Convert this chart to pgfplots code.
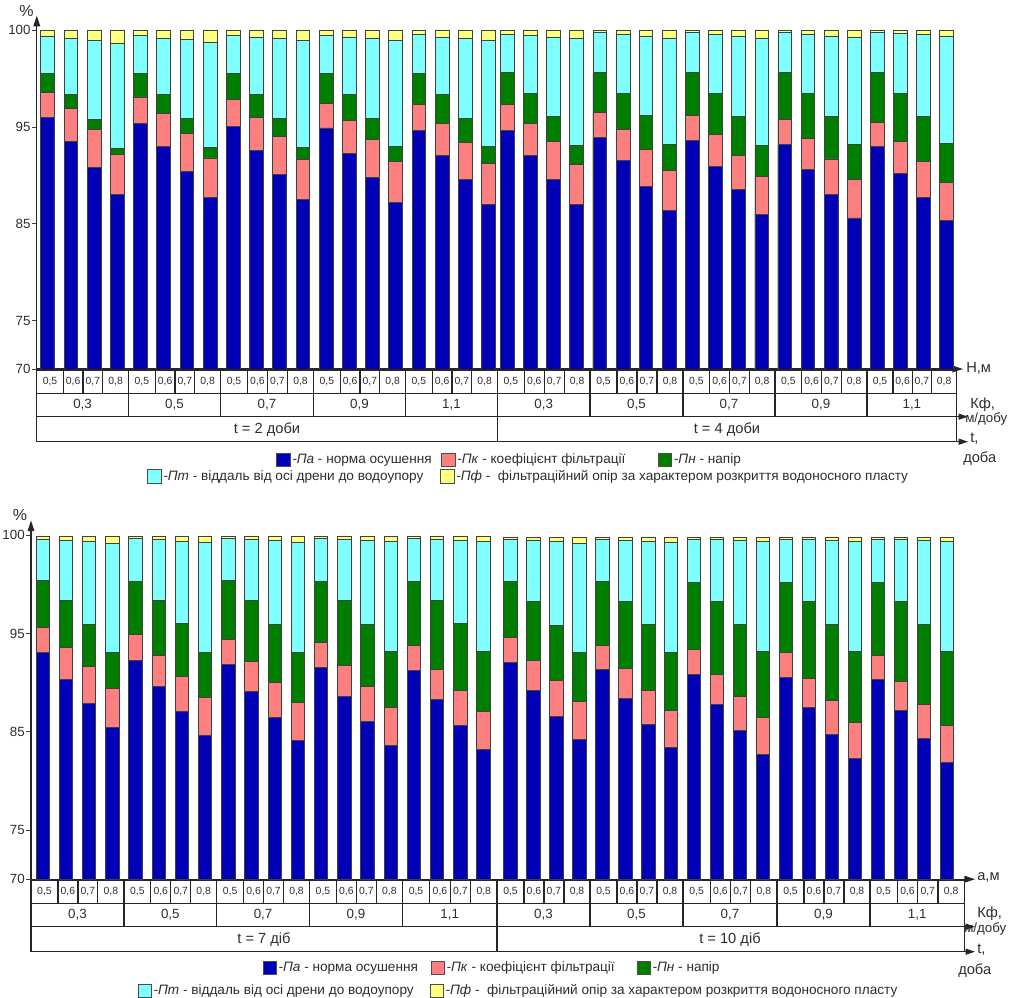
\documentclass[border=0pt]{standalone}
\usepackage{fontspec}
\setmainfont{Liberation Sans}
\usepackage{pgfplots}
\pgfplotsset{compat=1.18}
\usepackage{pgfplotstable}
\usetikzlibrary{arrows.meta}
\definecolor{cA}{RGB}{0,0,182}
\definecolor{cK}{RGB}{252,128,128}
\definecolor{cN}{RGB}{0,126,0}
\definecolor{cT}{RGB}{128,255,255}
\definecolor{cF}{RGB}{255,255,128}
\definecolor{txt}{RGB}{45,45,45}
\newcommand\fs[1]{\fontsize{#1}{#1}\selectfont}

% cumulative tops (display scale: 100 % is drawn at 105)
% F = Pf (total), T = top of Pt, N = top of Pn, K = top of Pk, A = top of Pa
\pgfplotstableread{
x F T N K A
0 105 104.4 100.5 98.6 96.0
1 105 104.1 98.4 96.9 93.5
2 105 103.9 95.8 94.7 90.8
3 105 103.6 92.8 92.2 88.0
4 105 104.5 100.5 98.1 95.4
5 105 104.2 98.4 96.4 93.0
6 105 104.0 95.9 94.3 90.4
7 105 103.7 92.9 91.8 87.7
8 105 104.5 100.5 97.8 95.1
9 105 104.3 98.4 96.0 92.6
10 105 104.1 95.9 94.0 90.1
11 105 103.9 92.9 91.6 87.5
12 105 104.5 100.5 97.4 94.9
13 105 104.3 98.4 95.7 92.3
14 105 104.1 95.9 93.7 89.8
15 105 103.9 93.0 91.4 87.2
16 105 104.6 100.5 97.3 94.6
17 105 104.3 98.4 95.4 92.1
18 105 104.1 95.9 93.4 89.6
19 105 103.9 93.0 91.2 87.0
19.81 105 104.6 100.6 97.3 94.6
20.81 105 104.5 98.5 95.4 92.1
21.80 105 104.3 96.1 93.5 89.6
22.80 105 104.1 93.1 91.1 87.0
23.80 105 104.8 100.6 96.5 93.9
24.80 105 104.6 98.5 94.7 91.5
25.79 105 104.4 96.2 92.7 88.9
26.79 105 104.2 93.2 90.5 86.4
27.79 105 104.8 100.6 96.2 93.6
28.78 105 104.6 98.5 94.2 90.9
29.78 105 104.4 96.1 92.1 88.5
30.78 105 104.2 93.1 89.9 86.0
31.77 105 104.8 100.6 95.8 93.2
32.77 105 104.6 98.5 93.8 90.6
33.77 105 104.4 96.1 91.7 88.0
34.77 105 104.3 93.2 89.6 85.6
35.76 105 104.8 100.6 95.5 93.0
36.76 105 104.7 98.5 93.5 90.2
37.76 105 104.6 96.1 91.4 87.7
38.75 105 104.4 93.3 89.3 85.3
}\topdata

\pgfplotstableread{
x F T N K A
0 104.85 104.56 100.42 95.61 93.03
1 104.85 104.46 98.39 93.54 90.36
2 104.85 104.32 95.92 91.61 87.88
3 104.85 104.15 93.03 89.41 85.44
4 104.85 104.66 100.32 94.90 92.29
5 104.85 104.53 98.39 92.73 89.58
6 104.85 104.39 95.98 90.66 87.03
7 104.85 104.25 93.07 88.49 84.59
8 104.85 104.66 100.36 94.42 91.88
9 104.85 104.53 98.39 92.12 89.07
10 104.85 104.42 95.95 90.02 86.42
11 104.85 104.25 93.10 87.95 84.08
12 104.85 104.66 100.32 94.05 91.54
13 104.85 104.56 98.39 91.71 88.63
14 104.85 104.46 95.95 89.58 86.02
15 104.85 104.32 93.20 87.44 83.64
16 104.85 104.66 100.32 93.78 91.27
17 104.85 104.56 98.39 91.37 88.32
18 104.85 104.49 96.02 89.17 85.68
19 104.85 104.39 93.20 87.03 83.24
20.16 104.75 104.59 100.25 94.56 92.05
21.15 104.75 104.46 98.29 92.29 89.17
22.14 104.75 104.32 95.85 90.19 86.59
23.13 104.75 104.15 93.03 88.12 84.25
24.12 104.75 104.53 100.25 93.75 91.31
25.11 104.75 104.49 98.29 91.44 88.36
26.10 104.75 104.39 95.92 89.24 85.75
27.09 104.75 104.29 93.07 87.14 83.37
28.08 104.75 104.59 100.19 93.37 90.86
29.07 104.75 104.53 98.29 90.86 87.81
30.06 104.75 104.42 95.92 88.63 85.17
31.05 104.75 104.39 93.14 86.46 82.73
32.04 104.75 104.59 100.19 93.03 90.49
33.03 104.75 104.53 98.29 90.42 87.44
34.02 104.75 104.49 95.95 88.15 84.73
35.01 104.75 104.39 93.20 85.92 82.29
36.00 104.75 104.59 100.19 92.80 90.29
36.99 104.75 104.56 98.29 90.15 87.17
37.98 104.75 104.49 95.95 87.78 84.32
38.97 104.75 104.39 93.20 85.61 81.92
}\botdata

\pgfplotsset{
  mybar/.style={ybar, bar shift=0pt, bar width=#1, draw=black!75, line width=0.6pt},
  chart/.style={
    anchor=south west, scale only axis,
    ymin=70, ymax=106.5,
    axis lines=left,
    axis line style={line width=0.9pt, draw=black!85, -{Triangle[length=8pt,width=5pt]}},
    xtick=\empty,
    ytick={70,75,85,95,105}, yticklabels={70,75,85,95,100},
    tick align=outside, major tick length=3.5pt,
    tick style={line width=0.7pt, draw=black!75},
    yticklabel style={font=\fs{10}, text=txt, inner sep=1pt},
  }
}
\tikzset{
  tbl/.style={line width=0.9pt, draw=black!85},
  cell/.style={font=\fs{7.8}, text=txt, inner sep=0pt},
  kf/.style={font=\fs{10}, text=txt, inner sep=0pt},
  tl/.style={font=\fs{11}, text=txt, inner sep=0pt},
  al/.style={font=\fs{11}, text=txt, inner sep=0pt, anchor=west},
  lgt/.style={font=\fs{10.2}, text=txt, inner sep=1.5pt, anchor=west},
}
\newcommand\lgd[4]{%
  \draw[line width=0.6pt, draw=black!70, fill=#3] (#1,#2-6.7) rectangle (#1+13.3,#2+6.7);
  \node[lgt] at (#1+13.3,#2) {#4};}

\begin{document}
\begin{tikzpicture}
\useasboundingbox (0,0) rectangle (757.5pt,748.5pt);

% ---------- top chart ----------
\begin{axis}[chart, at={(27.6pt,471.75pt)}, width=694.6pt, height=265pt,
  xmin=-0.47, xmax=39.45]
\addplot[mybar=10.3pt, fill=cF] table[x=x,y=F]{\topdata};
\addplot[mybar=10.3pt, fill=cT] table[x=x,y=T]{\topdata};
\addplot[mybar=10.3pt, fill=cN] table[x=x,y=N]{\topdata};
\addplot[mybar=10.3pt, fill=cK] table[x=x,y=K]{\topdata};
\addplot[mybar=10.3pt, fill=cA] table[x=x,y=A]{\topdata};
\end{axis}

% ---------- bottom chart ----------
\begin{axis}[chart, at={(23.25pt,89.1pt)}, width=708.1pt, height=269.1pt,
  xmin=-0.504, xmax=40.19]
\addplot[mybar=10pt, fill=cF] table[x=x,y=F]{\botdata};
\addplot[mybar=10pt, fill=cT] table[x=x,y=T]{\botdata};
\addplot[mybar=10pt, fill=cN] table[x=x,y=N]{\botdata};
\addplot[mybar=10pt, fill=cK] table[x=x,y=K]{\botdata};
\addplot[mybar=10pt, fill=cA] table[x=x,y=A]{\botdata};
\end{axis}

\begin{scope}[x=0.75pt, y=-0.75pt, shift={(0pt,748.5pt)}]
% ---- top: labels
\node[font=\fs{12}, text=txt, inner sep=0pt] at (26.5,11) {\%};
\node[al] at (966,368) {Н,м};
\node[al] at (970,405) {Кф,};
\node[al, font=\fs{10}] at (965,419.5) {м/добу};
\node[al] at (970,439) {t,};
\node[al] at (963,459) {доба};
% ---- top table
\foreach \a/\b/\k in {36.7/128.5/{0,3},128.5/220.5/{0,5},220.5/313.5/{0,7},313.5/405.5/{0,9},405.5/497.5/{1,1},497.5/590/{0,3},590/683/{0,5},683/775/{0,7},775/867/{0,9},867/956.7/{1,1}}{
  \pgfmathsetmacro\xa{\a+0.29*(\b-\a)}
  \pgfmathsetmacro\xb{\a+0.505*(\b-\a)}
  \pgfmathsetmacro\xc{\a+0.72*(\b-\a)}
  \draw[tbl] (\a,370.5) rectangle (\xa,393.3) (\xa,370.5) rectangle (\xb,393.3)
             (\xb,370.5) rectangle (\xc,393.3) (\xc,370.5) rectangle (\b,393.3);
  \node[cell] at ({(\a+\xa)/2},382) {0,5};
  \node[cell] at ({(\xa+\xb)/2},382) {0,6};
  \node[cell] at ({(\xb+\xc)/2},382) {0,7};
  \node[cell] at ({(\xc+\b)/2},382) {0,8};
  \draw[tbl] (\a,393.3) rectangle (\b,416.7);
  \node[kf] at ({(\a+\b)/2},405) {\k};
}
\draw[tbl] (36.7,416.7) rectangle (497.5,441.7) (497.5,416.7) rectangle (956.7,441.7);
\node[tl] at (267,429.5) {t = 2 доби};
\node[tl] at (727,429.5) {t = 4 доби};
\draw[tbl,-{Triangle[length=7pt,width=4.5pt]}] (956.7,416.7) -- (968,416.7);
\draw[tbl,-{Triangle[length=7pt,width=4.5pt]}] (956.7,441.7) -- (968,441.7);
% ---- top legend
\lgd{276.7}{460}{cA}{\textit{-Па} - норма осушення}
\lgd{441.7}{460}{cK}{\textit{-Пк} - коефіцієнт фільтрації}
\lgd{658.3}{460}{cN}{\textit{-Пн} - напір}
\lgd{147.7}{476.5}{cT}{\textit{-Пт} - віддаль від осі дрени до водоупору}
\lgd{440.7}{476.5}{cF}{\textit{-Пф} -\ \ фільтраційний опір за характером розкриття водоносного пласту}

% ---- bottom: labels
\node[font=\fs{12}, text=txt, inner sep=0pt] at (20,515) {\%};
\node[al] at (977,877) {а,м};
\node[al] at (977,914) {Кф,};
\node[al, font=\fs{10}] at (964,929) {м/добу};
\node[al] at (977,950) {t,};
\node[al] at (958,971) {доба};
% ---- bottom table
\foreach \a/\b/\k in {31/123.9/{0,3},123.9/216.7/{0,5},216.7/309.5/{0,7},309.5/402.3/{0,9},402.3/497/{1,1},497/590/{0,3},590/683/{0,5},683/777/{0,7},777/870/{0,9},870/964.3/{1,1}}{
  \pgfmathsetmacro\xa{\a+0.29*(\b-\a)}
  \pgfmathsetmacro\xb{\a+0.505*(\b-\a)}
  \pgfmathsetmacro\xc{\a+0.72*(\b-\a)}
  \draw[tbl] (\a,880.5) rectangle (\xa,903.3) (\xa,880.5) rectangle (\xb,903.3)
             (\xb,880.5) rectangle (\xc,903.3) (\xc,880.5) rectangle (\b,903.3);
  \node[cell] at ({(\a+\xa)/2},892) {0,5};
  \node[cell] at ({(\xa+\xb)/2},892) {0,6};
  \node[cell] at ({(\xb+\xc)/2},892) {0,7};
  \node[cell] at ({(\xc+\b)/2},892) {0,8};
  \draw[tbl] (\a,903.3) rectangle (\b,926.7);
  \node[kf] at ({(\a+\b)/2},915) {\k};
}
\draw[tbl] (31,926.7) rectangle (497,951.7) (497,926.7) rectangle (964.3,951.7);
\node[tl] at (264,939.5) {t = 7 діб};
\node[tl] at (730,939.5) {t = 10 діб};
\draw[tbl,-{Triangle[length=7pt,width=4.5pt]}] (964.3,926.7) -- (975,926.7);
\draw[tbl,-{Triangle[length=7pt,width=4.5pt]}] (964.3,951.7) -- (975,951.7);
% ---- bottom legend
\lgd{263}{968}{cA}{\textit{-Па} - норма осушення}
\lgd{431}{968}{cK}{\textit{-Пк} - коефіцієнт фільтрації}
\lgd{637}{968}{cN}{\textit{-Пн} - напір}
\lgd{138}{991}{cT}{\textit{-Пт} - віддаль від осі дрени до водоупору}
\lgd{430}{991}{cF}{\textit{-Пф} -\ \ фільтраційний опір за характером розкриття водоносного пласту}
\end{scope}
\end{tikzpicture}
\end{document}
